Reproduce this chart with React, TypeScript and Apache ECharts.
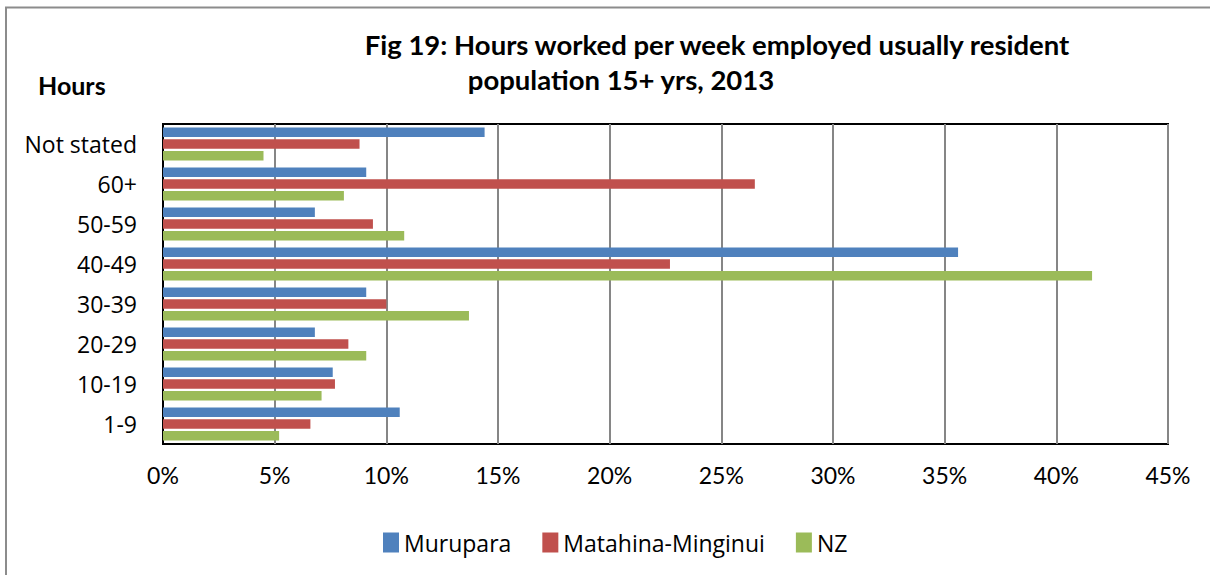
import React, { useEffect, useRef } from "react";
import * as echarts from "echarts";

const categories = ["1-9", "10-19", "20-29", "30-39", "40-49", "50-59", "60+", "Not stated"];
const murupara = [10.6, 7.6, 6.8, 9.1, 35.6, 6.8, 9.1, 14.4];
const matahina = [6.6, 7.7, 8.3, 10.0, 22.7, 9.4, 26.5, 8.8];
const nz = [5.2, 7.1, 9.1, 13.7, 41.6, 10.8, 8.1, 4.5];
const seriesNames = ["Murupara", "Matahina-Minginui", "NZ"];
const titleLine1 = "Fig 19: Hours worked per week employed usually resident";
const titleLine2 = "population 15+ yrs, 2013";
const yAxisTitle = "Hours";

const COND = "Lato, 'DejaVu Sans Condensed', sans-serif";
const SANS = "'Open Sans', 'Noto Sans', sans-serif";

export default function App() {
  const ref = useRef<HTMLDivElement>(null);
  useEffect(() => {
    if (!ref.current) return;
    const chart = echarts.init(ref.current, undefined, { renderer: "svg" });
    const colors = ["#4F81BD", "#C0504D", "#9BBB59"];
    const data = [murupara, matahina, nz];
    chart.setOption({
      animation: false,
      backgroundColor: "#fff",
      grid: {
        left: 163,
        top: 124,
        right: 42,
        bottom: 131,
        show: true,
        borderColor: "#000",
        borderWidth: 2,
        containLabel: false,
      },
      legend: {
        data: seriesNames,
        left: 383,
        top: 531,
        padding: 0,
        itemWidth: 16,
        itemHeight: 20,
        itemGap: 31,
        icon: "rect",
        itemStyle: { borderWidth: 0 },
        textStyle: { fontFamily: SANS, fontSize: 23, color: "#000" },
      },
      graphic: [
        {
          type: "rect",
          shape: { x: 6, y: 7.5, width: 1400, height: 800 },
          style: { fill: "none", stroke: "#8c8c8c", lineWidth: 2 },
          silent: true,
        },
        {
          type: "text",
          x: 717,
          y: 44,
          style: {
            text: titleLine1,
            font: `bold 27.5px ${COND}`,
            fill: "#000",
            align: "center",
            verticalAlign: "middle",
          },
        },
        {
          type: "text",
          x: 621,
          y: 79,
          style: {
            text: titleLine2,
            font: `bold 27.5px ${COND}`,
            fill: "#000",
            align: "center",
            verticalAlign: "middle",
          },
        },
        {
          type: "text",
          x: 38,
          y: 85,
          style: {
            text: yAxisTitle,
            font: `bold 25px ${COND}`,
            fill: "#000",
            align: "left",
            verticalAlign: "middle",
          },
        },
      ],
      xAxis: {
        type: "value",
        min: 0,
        max: 45,
        interval: 5,
        axisLabel: {
          formatter: "{value}%",
          fontFamily: COND,
          fontSize: 23,
          color: "#000",
          margin: 19,
        },
        axisLine: { show: false },
        axisTick: { show: false },
        splitLine: { show: true, lineStyle: { color: "#868686", width: 2 } },
      },
      yAxis: {
        type: "category",
        data: categories,
        axisLabel: { fontFamily: SANS, fontSize: 23, color: "#000", margin: 26 },
        axisLine: { show: true, lineStyle: { color: "#000", width: 2 } },
        axisTick: { show: false },
        splitLine: { show: false },
      },
      series: seriesNames.map((name, i) => ({
        name,
        type: "bar",
        data: data[i],
        barGap: "25%",
        barCategoryGap: "18%",
        itemStyle: { color: colors[i] },
      })),
    });
    return () => chart.dispose();
  }, []);
  return (
    <div
      ref={ref}
      style={{ position: "absolute", left: 0, top: 0, width: 1210, height: 575 }}
    />
  );
}
